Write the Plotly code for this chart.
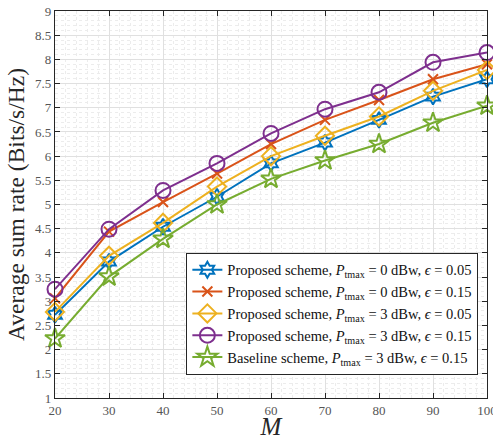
import plotly.graph_objects as go

M = [20, 30, 40, 50, 60, 70, 80, 90, 100]
p0_e005 = [2.72, 3.82, 4.54, 5.16, 5.85, 6.28, 6.75, 7.23, 7.59]
p0_e015 = [3.06, 4.44, 5.05, 5.64, 6.25, 6.75, 7.16, 7.59, 7.90]
p3_e005 = [2.78, 3.94, 4.62, 5.37, 6.00, 6.42, 6.82, 7.35, 7.78]
p3_e015 = [3.25, 4.49, 5.29, 5.85, 6.47, 6.97, 7.32, 7.94, 8.14]
base_e015 = [2.23, 3.51, 4.29, 5.00, 5.53, 5.91, 6.25, 6.69, 7.04]

names = [
    "Proposed scheme, <i>P</i><sub>tmax</sub> = 0 dBw, <i>ϵ</i> = 0.05",
    "Proposed scheme, <i>P</i><sub>tmax</sub> = 0 dBw, <i>ϵ</i> = 0.15",
    "Proposed scheme, <i>P</i><sub>tmax</sub> = 3 dBw, <i>ϵ</i> = 0.05",
    "Proposed scheme, <i>P</i><sub>tmax</sub> = 3 dBw, <i>ϵ</i> = 0.15",
    "Baseline scheme, <i>P</i><sub>tmax</sub> = 3 dBw, <i>ϵ</i> = 0.15",
]
series = [p0_e005, p0_e015, p3_e005, p3_e015, base_e015]
colors = ["#0072BD", "#D95319", "#EDB120", "#7E2F8E", "#77AC30"]
symbols = ["hexagram-open", "x-thin-open", "diamond-open", "circle-open", "star-open"]
sizes = [12, 10, 14, 15, 15]

SERIF = "Liberation Serif, Times New Roman, serif"

fig = go.Figure()
for ys, nm, c, s, sz in zip(series, names, colors, symbols, sizes):
    fig.add_trace(go.Scatter(
        x=M, y=ys, name=nm, mode="lines+markers",
        line=dict(color=c, width=2),
        marker=dict(symbol=s, size=sz, color=c, line=dict(color=c, width=2)),
        cliponaxis=False,
    ))

axis_common = dict(
    showline=True, linecolor="#262626", linewidth=1.3, mirror="ticks",
    ticks="inside", ticklen=5, tickcolor="#262626",
    showgrid=True, gridcolor="#e0e0e0", gridwidth=1,
    zeroline=False, automargin=False, ticklabeloverflow="allow",
    tickfont=dict(family=SERIF, size=13, color="#555555"),
)

fig.update_xaxes(
    range=[20, 100], tickmode="linear", tick0=20, dtick=10,
    minor=dict(dtick=2, showgrid=True, gridcolor="#ececec", griddash="dot", gridwidth=1, ticks=""),
    title=dict(text="<i>M</i>", font=dict(family=SERIF, size=25, color="#262626"), standoff=7),
    **axis_common,
)
fig.update_yaxes(
    range=[1, 9], tickmode="linear", tick0=1, dtick=0.5,
    minor=dict(dtick=0.1, showgrid=True, gridcolor="#ececec", griddash="dot", gridwidth=1, ticks=""),
    title=dict(text="Average sum rate (Bits/s/Hz)", font=dict(family=SERIF, size=23.5, color="#262626"), standoff=3),
    **axis_common,
)

fig.update_layout(
    width=493, height=440,
    margin=dict(l=55, r=6, t=11, b=42),
    plot_bgcolor="white", paper_bgcolor="white",
    legend=dict(
        x=0.98, y=0.06, xanchor="right", yanchor="bottom",
        bgcolor="white", bordercolor="#262626", borderwidth=1,
        font=dict(family=SERIF, size=14.5, color="#111111"),
        itemwidth=30, tracegroupgap=0,
    ),
    showlegend=True,
)

fig.write_html(
    "out.html",
    config={"displayModeBar": False},
    post_script="document.body.style.margin='0';document.body.style.overflow='hidden';",
)
